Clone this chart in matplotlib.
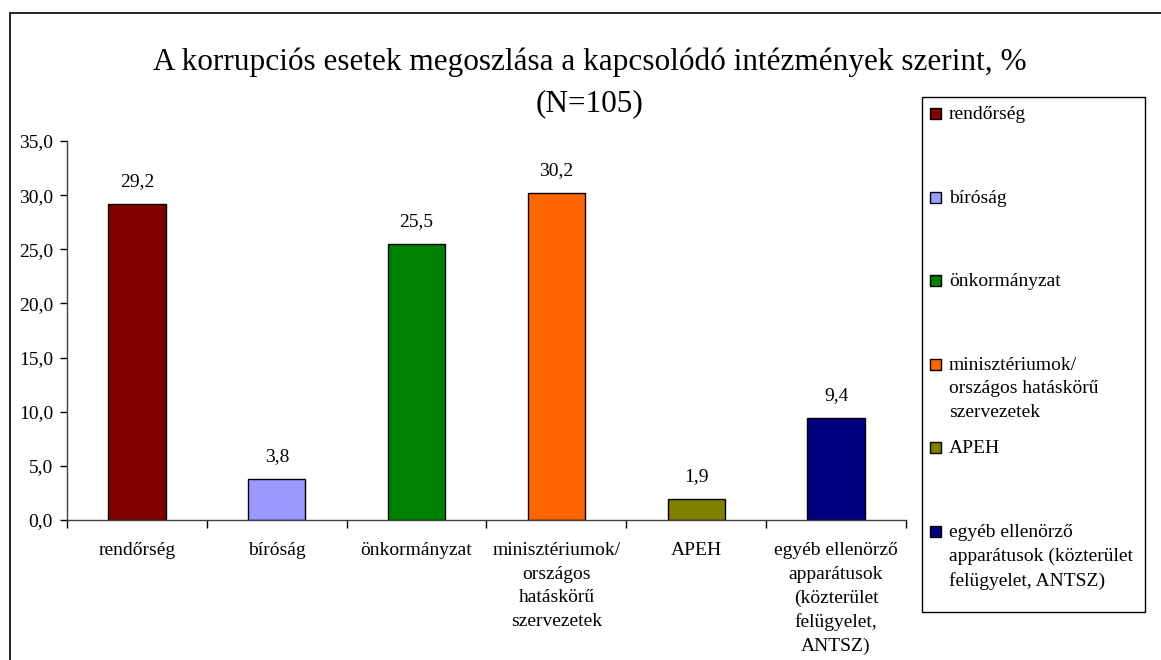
import matplotlib
matplotlib.use("Agg")
import matplotlib.pyplot as plt
from matplotlib.patches import Rectangle

plt.rcParams['font.family'] = ['Liberation Serif', 'DejaVu Serif']

categories = ["rendőrség", "bíróság", "önkormányzat",
              "minisztériumok/\nországos\nhatáskörű\nszervezetek", "APEH",
              "egyéb ellenörző\napparátusok\n(közterület\nfelügyelet,\nANTSZ)"]
legend_labels = ["rendőrség", "bíróság", "önkormányzat",
                 "minisztériumok/\nországos hatáskörű\nszervezetek", "APEH",
                 "egyéb ellenörző\napparátusok (közterület\nfelügyelet, ANTSZ)"]
values = [29.2, 3.8, 25.5, 30.2, 1.9, 9.4]
colors = ["#800000", "#9999FF", "#008000", "#FF6600", "#808000", "#000080"]
yticks = [0, 5, 10, 15, 20, 25, 30, 35]
title_lines = ["A korrupciós esetek megoszlása a kapcsolódó intézmények szerint, %", "(N=105)"]

W, H = 1161, 660
fig = plt.figure(figsize=(W / 100, H / 100), dpi=100)

def fx(px):
    return px / W

def fy(py):
    return 1 - py / H

# outer chart border
fig.patches.append(Rectangle((fx(10), -0.1), 1.2, fy(13) + 0.1, transform=fig.transFigure,
                             fill=False, edgecolor='black', linewidth=1.2, clip_on=False))

ax = fig.add_axes([fx(67), fy(520), fx(906) - fx(67), fy(141) - fy(520)])
x = list(range(len(values)))
bars = ax.bar(x, values, width=0.41, color=colors, edgecolor='black', linewidth=1.0)
ax.set_xlim(-0.5, len(values) - 0.5)
ax.set_ylim(0, 35)
ax.set_yticks(yticks)
ax.set_yticklabels([f"{v:.1f}".replace('.', ',') for v in yticks], fontsize=14)
ax.set_xticks(x)
ax.set_xticklabels(categories, fontsize=14, linespacing=1.5, va='top')
ax.set_xticks([i - 0.5 for i in range(len(values) + 1)], minor=True)
ax.tick_params(axis='x', which='major', length=0, pad=16)
ax.tick_params(axis='x', which='minor', length=6, direction='out', width=1)
ax.tick_params(axis='y', length=5, direction='out', pad=5, width=1)
for s in ['top', 'right']:
    ax.spines[s].set_visible(False)
for s in ['left', 'bottom']:
    ax.spines[s].set_linewidth(1.0)
    ax.spines[s].set_color('#404040')

for b, v in zip(bars, values):
    ax.annotate(f"{v:.1f}".replace('.', ','), (b.get_x() + b.get_width() / 2, v),
                xytext=(0, 10), textcoords='offset points', ha='center', va='bottom', fontsize=14)

for line, yc in zip(title_lines, [62, 104]):
    fig.text(fx(590), fy(yc), line, ha='center', va='center', fontsize=22.5)

# legend
fig.patches.append(Rectangle((fx(922), fy(612)), fx(1145) - fx(922), fy(97) - fy(612),
                             transform=fig.transFigure, fill=False, edgecolor='black', linewidth=1.0))
for i, (lab, c) in enumerate(zip(legend_labels, colors)):
    yc = 113 + 83.6 * i
    fig.patches.append(Rectangle((fx(930), fy(yc + 6)), fx(11), 11 / H, transform=fig.transFigure,
                                 facecolor=c, edgecolor='black', linewidth=1.0))
    fig.text(fx(949), fy(yc - 7), lab, ha='left', va='top', fontsize=14, linespacing=1.5)

fig.savefig("out.png", dpi=100)
